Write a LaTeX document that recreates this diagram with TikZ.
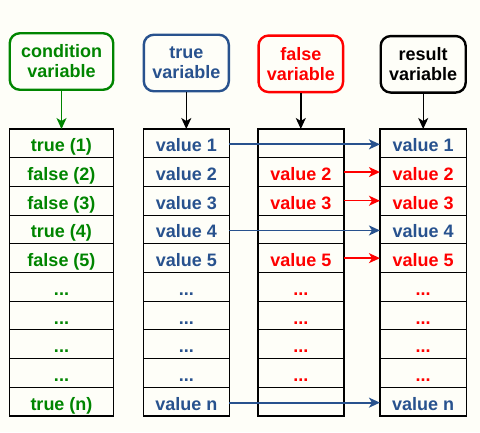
\documentclass[tikz,border=0pt]{standalone}
\usepackage{fontspec}
\setmainfont{Liberation Sans}
\usetikzlibrary{arrows.meta}
\definecolor{condgreen}{RGB}{0,133,0}
\definecolor{valblue}{RGB}{40,82,142}
\definecolor{bgpaper}{RGB}{254,254,248}
\newcommand{\etcdots}{...}
\tikzset{
  cell/.style={draw=black,line width=0.9pt,minimum height=28.7pt,inner sep=0pt,outer sep=0pt,
    text height=17pt,text depth=0pt,font=\fontsize{18}{20}\selectfont\bfseries},
  head/.style={draw,rounded corners=10pt,line width=2.4pt,minimum height=56.5pt,align=center,
    inner sep=0pt,font=\fontsize{18}{20}\selectfont\bfseries},
  feed/.style={-{Stealth[length=11pt,width=10pt,inset=3pt]},line width=1.4pt},
  frame/.style={line width=1.6pt},
}
\begin{document}
\begin{tikzpicture}[x=1pt,y=-1pt]
\fill[bgpaper] (0,0) rectangle (480,432);
\useasboundingbox (0,0) rectangle (480,432);
\node[head,condgreen,minimum width=103.5pt] (hcond) at (61.5,61.5) {condition\\variable};
\node[head,valblue,minimum width=85pt] (htrue) at (186.3,63) {true\\variable};
\node[head,red,minimum width=84.5pt] (hfalse) at (300.8,63.8) {false\\variable};
\node[head,black,minimum width=85pt] (hres) at (423.2,64.3) {result\\variable};
\foreach \txt [count=\i] in {true (1),false (2),false (3),true (4),false (5),\etcdots,\etcdots,\etcdots,\etcdots,true (n)}
  \node[cell,condgreen,draw=black,minimum width=104pt] (c\i) at (61.5,{129+28.7*(\i-0.5)}) {\txt};
\foreach \txt [count=\i] in {value 1,value 2,value 3,value 4,value 5,\etcdots,\etcdots,\etcdots,\etcdots,value n}
  \node[cell,valblue,draw=black,minimum width=86pt] (t\i) at (186.3,{129+28.7*(\i-0.5)}) {\txt};
\foreach \txt [count=\i] in {,value 2,value 3,,value 5,\etcdots,\etcdots,\etcdots,\etcdots,}
  \node[cell,red,draw=black,minimum width=86pt] (f\i) at (300.8,{129+28.7*(\i-0.5)}) {\txt};
\foreach \txt/\col [count=\i] in {value 1/valblue,value 2/red,value 3/red,value 4/valblue,value 5/red,
    \etcdots/red,\etcdots/red,\etcdots/red,\etcdots/red,value n/valblue}
  \node[cell,\col,draw=black,minimum width=86.5pt] (r\i) at (423.2,{129+28.7*(\i-0.5)}) {\txt};
\draw[frame] (c1.north west) rectangle (c10.south east);
\draw[frame] (t1.north west) rectangle (t10.south east);
\draw[frame] (f1.north west) rectangle (f10.south east);
\draw[frame] (r1.north west) rectangle (r10.south east);
\draw[feed,condgreen] (hcond.south) -- (c1.north);
\draw[feed] (htrue.south) -- (t1.north);
\draw[feed] (hfalse.south) -- (f1.north);
\draw[feed] (hres.south) -- (r1.north);
\foreach \i in {1,4,10}
  \draw[feed,valblue,line width=1.8pt] ([yshift=-1pt]t\i.east) -- ([yshift=-1pt]r\i.west);
\foreach \i in {2,3,5}
  \draw[feed,red] (f\i.east) -- (r\i.west);
\end{tikzpicture}
\end{document}
